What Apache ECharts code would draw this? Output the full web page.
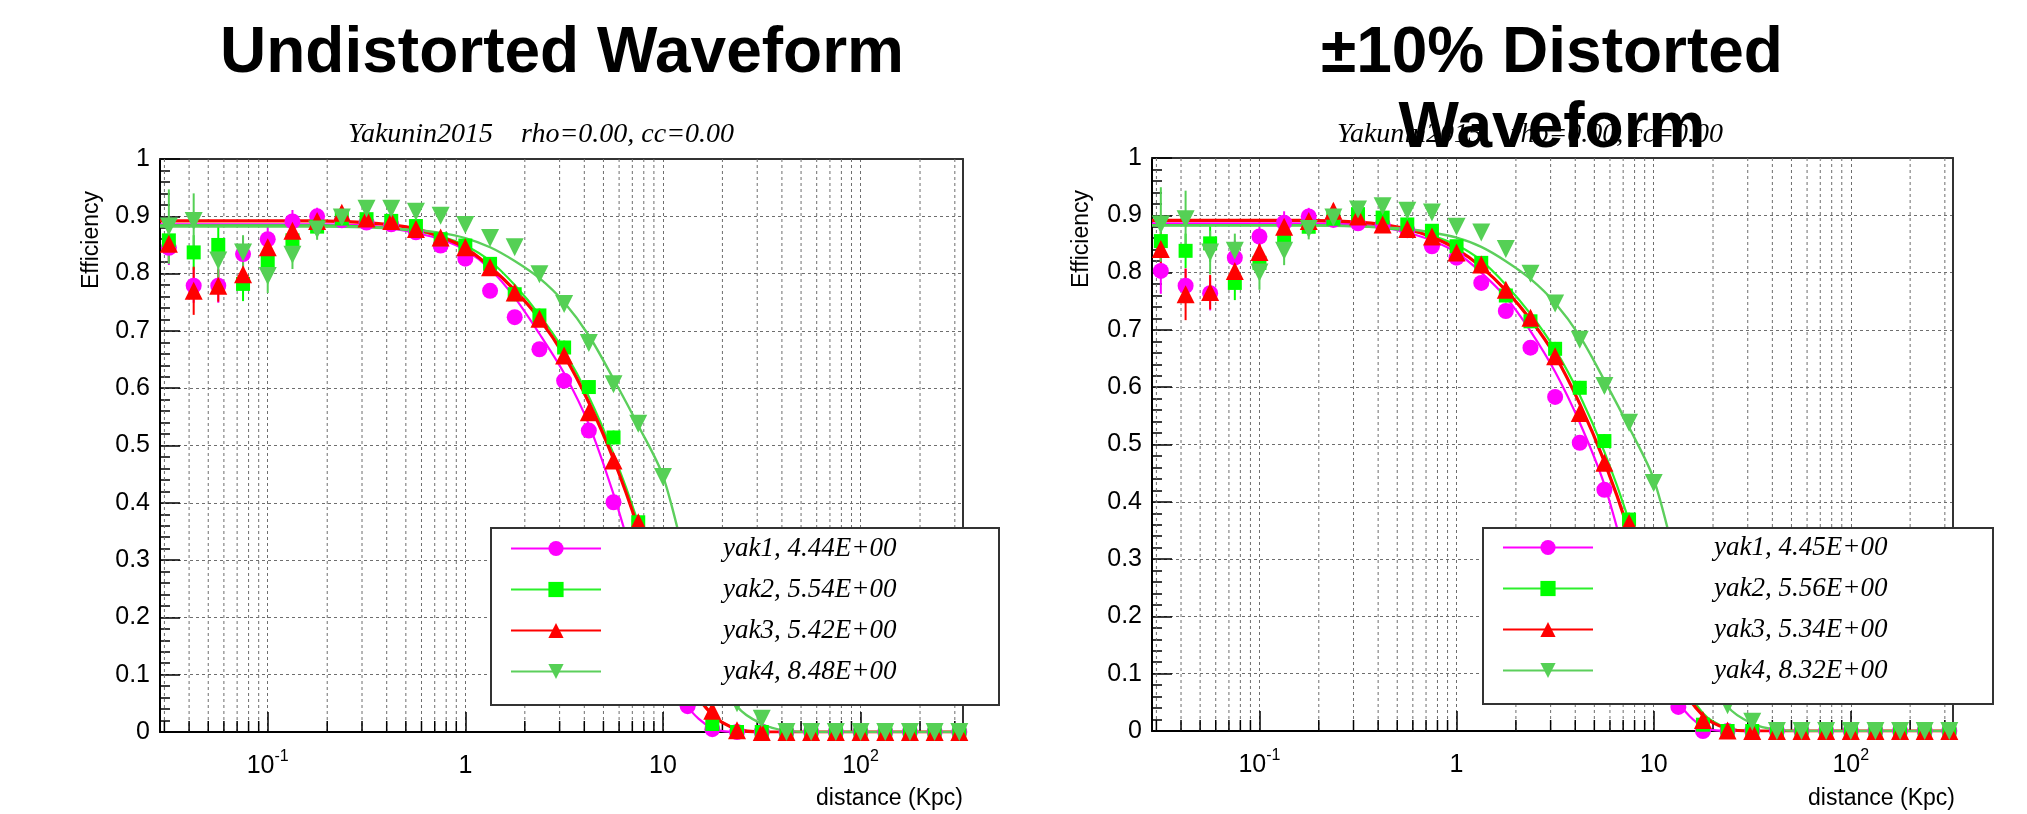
<!DOCTYPE html>
<html><head><meta charset="utf-8">
<script src="https://cdn.jsdelivr.net/npm/echarts@6/dist/echarts.min.js"></script>
<style>html,body{margin:0;padding:0;background:#fff}#c{width:2027px;height:814px}</style>
</head><body><div id="c"></div>
<script>
// ---------- data ----------
const distances = [0.0316,0.0422,0.0562,0.0750,0.1,0.1334,0.1778,0.2371,0.3162,0.4217,0.5623,0.7499,1,1.334,1.778,2.371,3.162,4.217,5.623,7.499,10,13.34,17.78,23.71,31.62,42.17,56.23,74.99,100,133.4,177.8,237.1,316.2];
const minorGridX = [0.03,0.04,0.05,0.06,0.07,0.08,0.09,0.2,0.3,0.4,0.5,0.6,0.7,0.8,0.9,2,3,4,5,6,7,8,9,20,30,40,50,60,70,80,90,200,300];
const xTickValues = [0.1,1,10,100];
const xTickLabels = [['10','-1'],['1',''],['10',''],['10','2']];
const fitX = [0.0285,0.1,0.1778,0.3162,0.4217,0.5623,0.7499,1,1.334,1.778,2.371,3.162,4.217,5.623,7.499,10,13.34,17.78,23.71,31.62,42.17,56.23,330];

const namesL = ['yak1, 4.44E+00','yak2, 5.54E+00','yak3, 5.42E+00','yak4, 8.48E+00'];
const namesR = ['yak1, 4.45E+00','yak2, 5.56E+00','yak3, 5.34E+00','yak4, 8.32E+00'];

// left panel (undistorted)
const yak1L = [0.845,0.779,0.779,0.834,0.860,0.891,0.900,0.893,0.889,0.886,0.872,0.849,0.826,0.770,0.724,0.668,0.613,0.526,0.401,0.265,0.140,0.045,0.005,0,0,0,0,0,0,0,0,0,0];
const yak2L = [0.858,0.837,0.850,0.782,0.823,0.858,0.882,0.896,0.895,0.892,0.883,0.860,0.849,0.817,0.764,0.727,0.671,0.602,0.514,0.366,0.210,0.095,0.014,0,0,0,0,0,0,0,0,0,0];
const yak3L = [0.852,0.770,0.779,0.799,0.846,0.875,0.892,0.906,0.896,0.892,0.878,0.863,0.846,0.811,0.767,0.721,0.657,0.558,0.474,0.366,0.200,0.090,0.037,0.003,0,0,0,0,0,0,0,0,0];
const yak4L = [0.882,0.892,0.823,0.837,0.796,0.833,0.877,0.898,0.913,0.913,0.908,0.901,0.885,0.862,0.846,0.799,0.747,0.679,0.607,0.538,0.445,0.290,0.140,0.050,0.023,0,0,0,0,0,0,0,0];
const err1L = [0.03,0.03,0.03,0.03,0.025,0.02,0.015,0.012,0.01,0.01,0.01,0.01,0.01,0.01,0.012,0.012,0.012,0.012,0.012,0.012,0.01,0.008,0.004,0,0,0,0,0,0,0,0,0,0];
const err2L = [0.035,0.03,0.032,0.03,0.025,0.02,0.015,0.012,0.01,0.01,0.01,0.01,0.01,0.01,0.012,0.012,0.012,0.012,0.012,0.012,0.01,0.008,0.004,0,0,0,0,0,0,0,0,0,0];
const err3L = [0.03,0.042,0.028,0.025,0.022,0.02,0.015,0.012,0.01,0.01,0.01,0.01,0.01,0.01,0.012,0.012,0.012,0.012,0.012,0.012,0.01,0.008,0.006,0.003,0,0,0,0,0,0,0,0,0];
const err4L = [0.065,0.048,0.038,0.03,0.03,0.025,0.018,0.013,0.01,0.01,0.01,0.01,0.01,0.01,0.01,0.012,0.012,0.012,0.012,0.012,0.012,0.01,0.008,0.006,0.004,0,0,0,0,0,0,0,0];
const fit1L = [0.886,0.886,0.886,0.884,0.879,0.871,0.860,0.841,0.808,0.758,0.695,0.626,0.537,0.415,0.272,0.145,0.045,0.006,0,0,0,0,0];
const fit2L = [0.884,0.884,0.884,0.882,0.879,0.874,0.865,0.849,0.822,0.780,0.728,0.665,0.585,0.485,0.365,0.222,0.100,0.030,0.005,0,0,0,0];
const fit3L = [0.892,0.892,0.892,0.889,0.885,0.878,0.864,0.845,0.812,0.771,0.721,0.657,0.575,0.476,0.355,0.210,0.093,0.030,0.005,0,0,0,0];
const fit4L = [0.882,0.882,0.882,0.881,0.879,0.876,0.871,0.862,0.846,0.822,0.792,0.750,0.692,0.616,0.535,0.447,0.285,0.135,0.045,0.014,0.002,0,0];

// right panel (distorted)
const yak1R = [0.803,0.777,0.764,0.826,0.863,0.887,0.898,0.892,0.886,0.884,0.874,0.846,0.826,0.782,0.733,0.669,0.583,0.503,0.421,0.270,0.145,0.042,0,0,0,0,0,0,0,0,0,0,0];
const yak2R = [0.855,0.838,0.851,0.782,0.817,0.859,0.880,0.894,0.902,0.896,0.884,0.873,0.846,0.817,0.760,0.715,0.667,0.599,0.506,0.369,0.220,0.100,0.011,0,0,0,0,0,0,0,0,0,0];
const yak3R = [0.841,0.762,0.766,0.803,0.836,0.880,0.890,0.908,0.898,0.884,0.876,0.863,0.835,0.814,0.770,0.721,0.654,0.555,0.468,0.363,0.200,0.085,0.019,0.001,0,0,0,0,0,0,0,0,0];
const yak4R = [0.884,0.893,0.835,0.838,0.800,0.838,0.876,0.896,0.910,0.916,0.908,0.905,0.880,0.870,0.841,0.798,0.746,0.683,0.602,0.538,0.433,0.280,0.130,0.045,0.016,0,0,0,0,0,0,0,0];
const err1R = [0.04,0.03,0.03,0.03,0.025,0.02,0.015,0.012,0.01,0.01,0.01,0.01,0.01,0.01,0.012,0.012,0.012,0.012,0.012,0.012,0.01,0.008,0,0,0,0,0,0,0,0,0,0,0];
const err2R = [0.035,0.03,0.032,0.03,0.025,0.02,0.015,0.012,0.01,0.01,0.01,0.01,0.01,0.01,0.012,0.012,0.012,0.012,0.012,0.012,0.01,0.008,0.004,0,0,0,0,0,0,0,0,0,0];
const err3R = [0.03,0.045,0.03,0.025,0.022,0.02,0.015,0.012,0.01,0.01,0.01,0.01,0.01,0.01,0.012,0.012,0.012,0.012,0.012,0.012,0.01,0.008,0.005,0.002,0,0,0,0,0,0,0,0,0];
const err4R = [0.065,0.05,0.038,0.03,0.03,0.025,0.018,0.013,0.01,0.01,0.01,0.01,0.01,0.01,0.01,0.012,0.012,0.012,0.012,0.012,0.012,0.01,0.008,0.006,0.004,0,0,0,0,0,0,0,0];
const fit1R = [0.886,0.886,0.886,0.884,0.879,0.870,0.856,0.835,0.800,0.757,0.698,0.627,0.538,0.430,0.280,0.150,0.050,0.007,0,0,0,0,0];
const fit2R = [0.883,0.883,0.883,0.881,0.878,0.873,0.864,0.848,0.821,0.779,0.728,0.666,0.586,0.487,0.367,0.224,0.102,0.031,0.005,0,0,0,0];
const fit3R = [0.891,0.891,0.891,0.888,0.884,0.876,0.862,0.841,0.810,0.769,0.718,0.655,0.571,0.470,0.348,0.202,0.088,0.027,0.004,0,0,0,0];
const fit4R = [0.882,0.882,0.882,0.881,0.879,0.876,0.870,0.861,0.845,0.820,0.789,0.747,0.689,0.612,0.530,0.440,0.280,0.130,0.043,0.013,0.002,0,0];

// ---------- styling ----------
const SANS = 'Liberation Sans';
const SERIF = 'Liberation Serif';
const XMIN = 0.0285, XMAX = 330;
const styles = [
  {mc:'#ff00ff', lc:'#ff00ff', sym:'circle',   size:16, rot:0,   lw:2.2},
  {mc:'#00ff00', lc:'#2cef2c', sym:'rect',     size:14, rot:0,   lw:2.2},
  {mc:'#ff0000', lc:'#ff0000', sym:'triangle', size:18, rot:0,   lw:3.2},
  {mc:'#55d055', lc:'#5ccf5c', sym:'triangle', size:18, rot:180, lw:2.4}
];
const gridDash = {type:[3,3], color:'#6e6e6e', width:1};

const panels = [
  {grid:{left:160, top:159, width:803, height:573}, pts:[yak1L,yak2L,yak3L,yak4L], errs:[err1L,err2L,err3L,err4L], fits:[fit1L,fit2L,fit3L,fit4L], names:namesL,
   legend:{left:510, top:535, spacer:117}, box:[491,528,508,177]},
  {grid:{left:1152, top:158, width:801, height:573}, pts:[yak1R,yak2R,yak3R,yak4R], errs:[err1R,err2R,err3R,err4R], fits:[fit1R,fit2R,fit3R,fit4R], names:namesR,
   legend:{left:1502, top:534, spacer:116}, box:[1483,528,510,176]}
];

function xLabel(v){
  const i = xTickValues.findIndex(t => Math.abs(Math.log10(v) - Math.log10(t)) < 0.01);
  if (i < 0) return '';
  const [b, s] = xTickLabels[i];
  return s ? '{b|' + b + '}{s|' + s + '}' : '{b|' + b + '}';
}

const option = {animation:false, backgroundColor:'#fff', grid:[], xAxis:[], yAxis:[], series:[], legend:[], graphic:[]};

panels.forEach((p, pi) => {
  option.grid.push(p.grid);
  const xb = option.xAxis.length, yl = option.yAxis.length;
  option.xAxis.push({
    gridIndex:pi, type:'log', logBase:10, min:XMIN, max:XMAX,
    axisLine:{show:true, onZero:false, lineStyle:{color:'#000', width:2}},
    axisTick:{show:true, inside:true, length:20, lineStyle:{color:'#000', width:1.5}},
    minorTick:{show:false},
    axisLabel:{margin:17, showMinLabel:false, showMaxLabel:false, formatter:xLabel,
      rich:{b:{fontSize:25, fontFamily:SANS, color:'#000', lineHeight:30, verticalAlign:'bottom'},
            s:{fontSize:16, fontFamily:SANS, color:'#000', lineHeight:16, verticalAlign:'top'}}},
    splitLine:{show:true, lineStyle:gridDash}
  });
  option.xAxis.push({
    gridIndex:pi, type:'log', logBase:10, min:XMIN, max:XMAX, position:'top',
    axisLine:{show:true, onZero:false, lineStyle:{color:'#333', width:2}},
    axisTick:{show:false}, axisLabel:{show:false}, splitLine:{show:false}
  });
  option.yAxis.push({
    gridIndex:pi, type:'value', min:0, max:1, interval:0.1,
    axisLine:{show:true, onZero:false, lineStyle:{color:'#000', width:2}},
    axisTick:{show:true, inside:true, length:20, lineStyle:{color:'#000', width:1.5}},
    minorTick:{show:true, splitNumber:5, length:10, lineStyle:{color:'#000', width:1.5}},
    axisLabel:{fontSize:25, fontFamily:SANS, color:'#000', margin:10},
    splitLine:{show:true, lineStyle:gridDash}
  });
  option.yAxis.push({
    gridIndex:pi, type:'value', min:0, max:1, interval:0.1, position:'right',
    axisLine:{show:true, onZero:false, lineStyle:{color:'#333', width:2}},
    axisTick:{show:false}, axisLabel:{show:false}, splitLine:{show:false}
  });

  // minor vertical grid lines + minor ticks on the log axis
  option.series.push({
    type:'custom', xAxisIndex:xb, yAxisIndex:yl, z:1, silent:true, clip:false,
    data: minorGridX.map(x => [x, 0]), encode:{x:0, y:1},
    renderItem:(params, api) => {
      const x = api.value(0);
      const a = api.coord([x, 0]), b = api.coord([x, 1]);
      return {type:'group', children:[
        {type:'line', shape:{x1:a[0], y1:a[1], x2:b[0], y2:b[1]}, style:{stroke:'#6e6e6e', lineWidth:1, lineDash:[3,3]}},
        {type:'line', shape:{x1:a[0], y1:a[1], x2:a[0], y2:a[1] - 11}, style:{stroke:'#000', lineWidth:1.5}}
      ]};
    }
  });

  for (let i = 0; i < 4; i++) {
    const st = styles[i];
    const ys = p.pts[i], es = p.errs[i], fs = p.fits[i];
    option.series.push({
      type:'custom', xAxisIndex:xb, yAxisIndex:yl, z:2, silent:true, clip:false,
      data: distances.map((x, j) => [x, ys[j], es[j]]), encode:{x:0, y:1},
      renderItem:(params, api) => {
        const x = api.value(0), y = api.value(1), e = api.value(2);
        if (!(e > 0)) return null;
        const a = api.coord([x, y - e]), b = api.coord([x, y + e]);
        return {type:'line', shape:{x1:a[0], y1:a[1], x2:b[0], y2:b[1]}, style:{stroke:st.mc, lineWidth:2}};
      }
    });
    option.series.push({
      type:'scatter', xAxisIndex:xb, yAxisIndex:yl, z:2, silent:true, clip:false,
      data: distances.map((x, j) => [x, ys[j]]),
      symbol:st.sym, symbolSize:st.size, symbolRotate:st.rot,
      itemStyle:{color:st.mc, opacity:1}
    });
    option.series.push({
      type:'line', name:p.names[i], xAxisIndex:xb, yAxisIndex:yl, z:2, silent:true,
      data: fitX.map((x, j) => [x, fs[j]]),
      symbol:st.sym, symbolRotate:st.rot, showSymbol:false, smooth:0.3,
      lineStyle:{color:st.lc, width:st.lw}, itemStyle:{color:st.mc}
    });
  }

  option.legend.push({
    orient:'vertical', left:p.legend.left, top:p.legend.top, padding:0,
    itemWidth:90, itemHeight:19, itemGap:14, selectedMode:false, z:10,
    data:p.names, lineStyle:{width:2},
    formatter: n => '{sp|\u00a0}{t|' + n + '}',
    textStyle:{rich:{
      sp:{width:p.legend.spacer},
      t:{fontFamily:SERIF, fontStyle:'italic', fontSize:27, color:'#000', lineHeight:30}
    }}
  });

  const bx = p.box;
  option.graphic.push({type:'rect', z:3, silent:true,
    shape:{x:bx[0], y:bx[1], width:bx[2], height:bx[3]},
    style:{fill:'#fff', stroke:'#333', lineWidth:2}});
});

const txt = (x, y, text, font, extra) => Object.assign({type:'text', x, y, z:20, silent:true,
  style:Object.assign({text, fill:'#000', align:'center', verticalAlign:'middle'}, font)}, extra || {});

option.graphic.push(
  txt(541, 135, 'Yakunin2015    rho=0.00, cc=0.00', {fontFamily:SERIF, fontStyle:'italic', fontSize:28}),
  txt(1530, 135, 'Yakunin2015    rho=0.00, cc=0.00', {fontFamily:SERIF, fontStyle:'italic', fontSize:28}),
  txt(562, 54, 'Undistorted Waveform', {fontFamily:SANS, fontWeight:'bold', fontSize:64}),
  txt(1552, 54, '\u00b110% Distorted', {fontFamily:SANS, fontWeight:'bold', fontSize:64}),
  txt(1552, 129, 'Waveform', {fontFamily:SANS, fontWeight:'bold', fontSize:64}),
  txt(92, 240, 'Efficiency', {fontFamily:SANS, fontSize:23}, {rotation:Math.PI / 2}),
  txt(1082, 239, 'Efficiency', {fontFamily:SANS, fontSize:23}, {rotation:Math.PI / 2}),
  txt(963, 799, 'distance (Kpc)', {fontFamily:SANS, fontSize:23, align:'right'}),
  txt(1955, 799, 'distance (Kpc)', {fontFamily:SANS, fontSize:23, align:'right'})
);

const chart = echarts.init(document.getElementById('c'), null, {renderer:'canvas'});
chart.setOption(option);
</script>
</body></html>
